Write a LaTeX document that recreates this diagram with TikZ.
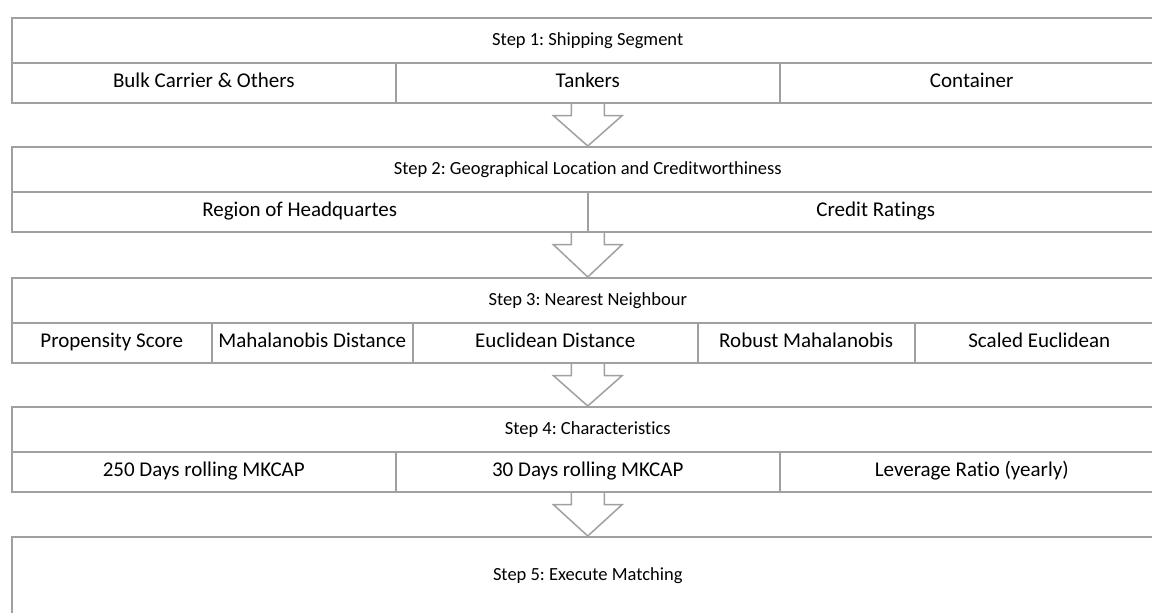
\documentclass[tikz,border=0pt]{standalone}
\usepackage{fontspec}
\setmainfont[Ligatures=NoCommon]{Carlito}
\frenchspacing
\usetikzlibrary{calc}
\definecolor{linegray}{RGB}{160,160,160}
\tikzset{
  header/.style={draw=linegray, line width=1.5pt, anchor=north west, inner sep=0pt,
    minimum width=1152pt, minimum height=45pt, text height=2.15ex, text depth=0pt,
    font=\fontsize{18.5}{22}\selectfont},
  cell/.style={draw=linegray, line width=1.5pt, anchor=north west, inner sep=0pt,
    minimum height=40pt, text height=2.15ex, text depth=0pt,
    font=\fontsize{21}{25}\selectfont},
  blockarrow/.style={draw=linegray, line width=1.5pt, line join=miter},
}
% hollow arrow from the bottom of one step down to the next one
\newcommand{\stepdown}[3]{%
  \coordinate (#1end) at (#1.south |- #2.south);
  \draw[blockarrow] ($(#1end)+(-16.5,0)$) -- ++(0,12) -- ++(-18,0) -- (#3.north)
    -- ($(#1end)+(34.5,12)$) -- ++(-18,0) -- ++(0,-12);
}

\begin{document}
\begin{tikzpicture}[x=1pt, y=-1pt]
        \useasboundingbox (0,0) rectangle (1152,613);
        \clip (0,0) rectangle (1152,613);
        % step 1
        \node[header] (s1) at (11,17) {Step 1: Shipping Segment};
        \node[cell, minimum width=384pt] (s1a) at (11,62) {Bulk Carrier \& Others};
        \node[cell, minimum width=384pt] (s1b) at (395,62) {Tankers};
        \node[cell, minimum width=384pt] (s1c) at (779,62) {Container};
        % step 2
        \node[header] (s2) at (11,146) {Step 2: Geographical Location and Creditworthiness};
        \node[cell, minimum width=576pt] (s2a) at (11,191) {Region of Headquartes};
        \node[cell, minimum width=576pt] (s2b) at (587,191) {Credit Ratings};
        % step 3
        \node[header] (s3) at (11,277) {Step 3: Nearest Neighbour};
        \node[cell, minimum width=200pt] (s3a) at (11,322) {Propensity Score};
        \node[cell, minimum width=201pt] (s3b) at (211,322) {Mahalanobis Distance};
        \node[cell, minimum width=285pt] (s3c) at (412,322) {Euclidean Distance};
        \node[cell, minimum width=217pt] (s3d) at (697,322) {Robust Mahalanobis};
        \node[cell, minimum width=249pt] (s3e) at (914,322) {Scaled Euclidean};
        % step 4
        \node[header] (s4) at (11,406) {Step 4: Characteristics};
        \node[cell, minimum width=384pt] (s4a) at (11,451) {250 Days rolling MKCAP};
        \node[cell, minimum width=384pt] (s4b) at (395,451) {30 Days rolling MKCAP};
        \node[cell, minimum width=384pt] (s4c) at (779,451) {Leverage Ratio (yearly)};
        % step 5
        \node[header, minimum height=78pt] (s5) at (11,536) {Step 5: Execute Matching};
        % arrows
        \stepdown{s1}{s1b}{s2}
        \stepdown{s2}{s2a}{s3}
        \stepdown{s3}{s3c}{s4}
        \stepdown{s4}{s4b}{s5}
\end{tikzpicture}
\end{document}
